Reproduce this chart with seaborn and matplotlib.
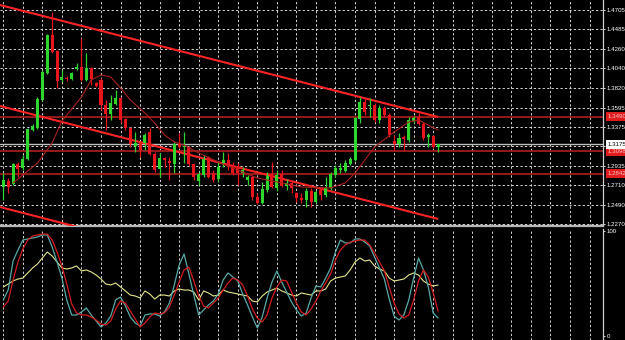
import numpy as np
import pandas as pd
import matplotlib.pyplot as plt
import matplotlib.transforms as mtransforms
import seaborn as sns

# candles (90 bars)
open_ = [1.2691, 1.2760, 1.2725, 1.2952, 1.2907, 1.3009, 1.3340, 1.3362, 1.3681, 1.3988,
         1.4421, 1.4239, 1.3909, 1.3931, 1.3920, 1.4034, 1.4056, 1.3909, 1.4045, 1.3875,
         1.3909, 1.3624, 1.3522, 1.3636, 1.3704, 1.3465, 1.3362, 1.3157, 1.3192, 1.3192,
         1.3317, 1.3066, 1.2896, 1.3021, 1.2987, 1.2952, 1.3180, 1.3146, 1.3146, 1.2952,
         1.2760, 1.2828, 1.3032, 1.2851, 1.2782, 1.2964, 1.2998, 1.2930, 1.2918, 1.2851,
         1.2771, 1.2805, 1.2577, 1.2509, 1.2657, 1.2839, 1.2680, 1.2839, 1.2702, 1.2737,
         1.2623, 1.2566, 1.2543, 1.2646, 1.2520, 1.2657, 1.2600, 1.2680, 1.2828, 1.2884,
         1.2873, 1.2952, 1.2998, 1.3465, 1.3658, 1.3613, 1.3624, 1.3453, 1.3590, 1.3510,
         1.3215, 1.3180, 1.3260, 1.3226, 1.3442, 1.3488, 1.3408, 1.3260, 1.3272, 1.3146]
high = [1.2851, 1.2794, 1.2964, 1.2975, 1.3055, 1.3362, 1.3408, 1.3715, 1.4022, 1.4432,
        1.4682, 1.4250, 1.4022, 1.3954, 1.3999, 1.4102, 1.4387, 1.4216, 1.4056, 1.3886,
        1.3931, 1.3681, 1.3738, 1.3795, 1.3715, 1.3476, 1.3374, 1.3317, 1.3203, 1.3306,
        1.3362, 1.3089, 1.3078, 1.3032, 1.3032, 1.3203, 1.3306, 1.3317, 1.3157, 1.2964,
        1.2862, 1.3055, 1.3043, 1.2884, 1.2975, 1.3089, 1.3078, 1.2975, 1.2964, 1.2918,
        1.2828, 1.2816, 1.2623, 1.2748, 1.2862, 1.2975, 1.2884, 1.2884, 1.2782, 1.2771,
        1.2634, 1.2623, 1.2680, 1.2680, 1.2657, 1.2691, 1.2805, 1.2862, 1.2941, 1.2964,
        1.2998, 1.3032, 1.3488, 1.3715, 1.3704, 1.3704, 1.3647, 1.3624, 1.3613, 1.3533,
        1.3283, 1.3306, 1.3283, 1.3488, 1.3499, 1.3533, 1.3431, 1.3306, 1.3283, 1.3180]
low = [1.2543, 1.2623, 1.2714, 1.2805, 1.2884, 1.2998, 1.3328, 1.3351, 1.3669, 1.3977,
       1.4216, 1.3817, 1.3886, 1.3897, 1.3909, 1.4022, 1.3897, 1.3897, 1.3852, 1.3829,
       1.3567, 1.3340, 1.3453, 1.3624, 1.3419, 1.3340, 1.3146, 1.3089, 1.3032, 1.3112,
       1.3055, 1.2862, 1.2805, 1.2918, 1.2771, 1.2851, 1.3135, 1.2964, 1.2930, 1.2771,
       1.2714, 1.2805, 1.2794, 1.2748, 1.2748, 1.2918, 1.2884, 1.2828, 1.2714, 1.2805,
       1.2714, 1.2543, 1.2498, 1.2498, 1.2634, 1.2680, 1.2646, 1.2691, 1.2657, 1.2623,
       1.2520, 1.2509, 1.2463, 1.2463, 1.2509, 1.2543, 1.2577, 1.2657, 1.2805, 1.2851,
       1.2862, 1.2941, 1.2987, 1.3419, 1.3510, 1.3488, 1.3431, 1.3419, 1.3488, 1.3260,
       1.3112, 1.3146, 1.3112, 1.3203, 1.3419, 1.3396, 1.3226, 1.3146, 1.3135, 1.3089]
close = [1.2771, 1.2691, 1.2952, 1.2896, 1.3009, 1.3351, 1.3385, 1.3692, 1.3999, 1.4421,
         1.4227, 1.3897, 1.3943, 1.3920, 1.3988, 1.4056, 1.3909, 1.4045, 1.3920, 1.3840,
         1.3624, 1.3522, 1.3647, 1.3704, 1.3453, 1.3362, 1.3180, 1.3192, 1.3112, 1.3283,
         1.3066, 1.2884, 1.3021, 1.2998, 1.2964, 1.3180, 1.3146, 1.3157, 1.2952, 1.2805,
         1.2839, 1.3009, 1.2805, 1.2771, 1.2918, 1.2998, 1.2918, 1.2851, 1.2851, 1.2884,
         1.2805, 1.2577, 1.2509, 1.2668, 1.2816, 1.2691, 1.2828, 1.2702, 1.2737, 1.2680,
         1.2566, 1.2543, 1.2646, 1.2520, 1.2634, 1.2600, 1.2680, 1.2839, 1.2907, 1.2907,
         1.2964, 1.3009, 1.3476, 1.3658, 1.3544, 1.3624, 1.3453, 1.3590, 1.3510, 1.3283,
         1.3180, 1.3249, 1.3237, 1.3453, 1.3476, 1.3408, 1.3249, 1.3283, 1.3146, 1.3175]

# moving average
ma_idx = [2, 7, 10, 12, 16, 18, 20, 22, 24, 26, 29, 31, 33, 35, 37, 40, 44, 48, 52, 57,
          61, 67, 70, 72, 74, 76, 80, 83, 85, 87, 89]
ma_val = [1.2737, 1.2964, 1.3192, 1.3442, 1.3715, 1.3909, 1.3966, 1.3943, 1.3818, 1.3681,
          1.3533, 1.3419, 1.3283, 1.3203, 1.3169, 1.3078, 1.2975, 1.2884, 1.2793, 1.2737,
          1.2691, 1.2680, 1.2737, 1.2850, 1.2998, 1.3146, 1.3317, 1.3431, 1.3453, 1.3396,
          1.3340]

# oscillator panel (0..100)
osc_main = [34.3, 43.8, 71.4, 81.9, 91.4, 92.4, 93.3, 94.3, 96.2, 96.2,
            84.8, 70.5, 55.2, 34.3, 20.0, 20.0, 22.9, 26.7, 20.0, 14.3,
            8.6, 12.4, 19.0, 34.3, 37.1, 28.6, 18.1, 12.4, 9.5, 20.0,
            21.0, 21.0, 19.0, 22.9, 31.4, 48.6, 67.6, 78.1, 59.0, 39.0,
            20.0, 24.8, 29.5, 33.3, 40.0, 53.3, 60.0, 56.2, 52.4, 40.0,
            29.5, 18.1, 7.6, 18.1, 36.2, 51.4, 61.9, 51.4, 41.9, 32.4,
            24.8, 19.0, 21.9, 36.2, 47.6, 46.7, 55.2, 64.8, 80.0, 91.4,
            88.6, 88.6, 92.4, 92.4, 89.5, 85.7, 75.2, 64.8, 54.3, 35.2,
            19.0, 15.2, 20.0, 34.3, 55.2, 74.3, 62.9, 46.7, 21.9, 17.1]
osc_signal = [27.6, 33.3, 53.3, 70.5, 82.9, 91.4, 95.2, 96.2, 97.1, 97.1,
              91.4, 80.0, 66.7, 49.5, 30.5, 21.9, 20.0, 20.0, 18.1, 15.2,
              11.4, 10.5, 14.3, 25.7, 33.3, 31.4, 23.8, 16.2, 8.6, 12.4,
              18.1, 21.9, 21.0, 21.9, 27.6, 39.0, 51.4, 62.9, 65.7, 52.4,
              38.1, 28.6, 26.7, 31.4, 36.2, 43.8, 50.5, 55.2, 53.3, 48.6,
              38.1, 25.7, 17.1, 13.3, 20.0, 36.2, 46.7, 53.3, 52.4, 41.9,
              31.4, 22.9, 20.0, 25.7, 33.3, 42.9, 50.5, 59.0, 72.4, 81.9,
              86.7, 89.5, 90.5, 91.4, 91.4, 86.7, 79.0, 70.5, 61.9, 46.7,
              31.4, 21.0, 17.1, 20.0, 34.3, 52.4, 62.9, 56.2, 41.0, 23.8]
osc_slow = [46.7, 49.5, 52.4, 54.3, 55.2, 60.0, 64.8, 68.6, 74.3, 80.0,
            76.2, 70.5, 64.8, 63.8, 64.8, 66.7, 61.9, 62.9, 61.0, 58.1,
            54.3, 49.5, 48.6, 50.5, 46.7, 42.9, 39.0, 38.1, 36.2, 42.9,
            40.0, 35.2, 39.0, 39.0, 38.1, 42.9, 44.8, 43.8, 43.8, 41.9,
            34.3, 42.9, 41.0, 38.1, 39.0, 43.8, 41.9, 41.0, 40.0, 39.0,
            38.1, 33.3, 32.4, 38.1, 41.9, 43.8, 45.7, 42.9, 41.0, 39.0,
            38.1, 41.0, 40.0, 39.0, 42.9, 42.9, 44.8, 52.4, 55.2, 56.2,
            57.1, 62.9, 70.5, 74.3, 71.4, 72.4, 66.7, 63.8, 61.9, 55.2,
            52.4, 53.3, 54.3, 58.1, 60.0, 58.1, 52.4, 49.5, 47.6, 48.6]

# trend lines (bar index, price)
trend_x = [[-0.675, 89], [-0.675, 89], [-0.675, 20]]
trend_y = [[1.4762, 1.3488], [1.3613, 1.2327], [1.2463, 1.2167]]
levels = [1.3490, 1.3098, 1.2842]
level_labels = ["1.3490", "1.3098", "1.2842"]
bid = 1.3175
price_ticks = [1.4705, 1.4485, 1.4260, 1.4040, 1.3820, 1.3595, 1.3375, 1.3155,
               1.2935, 1.2710, 1.2490, 1.2270]
price_tick_labels = ["1.4705", "1.4485", "1.4260", "1.4040", "1.3820", "1.3595", "1.3375", "",
                     "1.2935", "1.2710", "1.2490", "1.2270"]

GREEN = "#2ed62e"
RED = "#e8161c"
FS = 4.4

sns.set_style("dark", {"axes.facecolor": "black", "figure.facecolor": "black"})
plt.rcParams['font.family'] = ['Liberation Sans', 'DejaVu Sans']
plt.rcParams['lines.scale_dashes'] = False

fig = plt.figure(figsize=(6.25, 3.4), dpi=100)
W = 603 / 625
ax = fig.add_axes([0, 1 - 226 / 340, W, 226 / 340])
axi = fig.add_axes([0, 0, W, 111 / 340])

idx = np.arange(len(close))
o = np.array(open_)
c = np.array(close)
col = np.where(c >= o, GREEN, RED)

XMIN, XMAX = -0.675, 122.76
grid_x = np.arange(0, 123, 4)
dash = (0, (1.6, 1.6))

for a in (ax, axi):
    a.set_facecolor("black")
    a.set_xlim(XMIN, XMAX)
    a.set_xticks(grid_x)
    a.tick_params(axis="x", bottom=False, labelbottom=False)
    a.grid(True, axis="x", color="#d8d8d8", ls=dash, lw=0.7)
    a.yaxis.tick_right()
    a.tick_params(axis="y", colors="white", labelsize=FS, length=1.5, width=0.6, pad=1.2)
    for s in ("left", "top", "bottom"):
        a.spines[s].set_visible(False)
    a.spines["right"].set_color("#d0d0d0")
    a.spines["right"].set_linewidth(0.9)
    a.set_xlabel("")
    a.set_ylabel("")

# main price panel
ax.set_ylim(1.2247, 1.4819)
ax.set_yticks(price_ticks)
ax.set_yticklabels(price_tick_labels)
ax.grid(True, axis="y", color="#d8d8d8", ls=dash, lw=0.7)
ax.spines["bottom"].set_visible(True)
ax.spines["bottom"].set_color("#b8b8b8")
ax.spines["bottom"].set_linewidth(1.6)

for lv in levels:
    ax.axhline(lv, color="#a01c1c", lw=1.3, zorder=2)
ax.axhline(bid, color="#bdbdbd", lw=1.0, zorder=2)

for tx, ty in zip(trend_x, trend_y):
    ax.plot(tx, ty, color="#ff2424", lw=1.5, zorder=3, solid_capstyle="butt")

ax.vlines(idx, low, high, colors=col, lw=0.9, zorder=4)
bottom = np.minimum(o, c)
height = np.maximum(np.abs(c - o), 0.0007)
ax.bar(idx, height, bottom=bottom, width=0.62, color=col, linewidth=0, zorder=5)

ma_df = pd.DataFrame({"bar": ma_idx, "ma": ma_val})
sns.lineplot(data=ma_df, x="bar", y="ma", ax=ax, color="#a8201c", lw=0.8, zorder=6)
ax.set_xlabel("")
ax.set_ylabel("")

trans = mtransforms.blended_transform_factory(ax.transAxes, ax.transData)
for lv, lab in zip(levels, level_labels):
    ax.text(1.0075, lv, lab, transform=trans, fontsize=FS, color="#ffc4c4",
            va="center", ha="left", clip_on=False,
            bbox=dict(boxstyle="square,pad=0.3", fc="#e01c1c", ec="none"))
ax.text(1.0075, bid, "1.3175", transform=trans, fontsize=FS, color="black",
        va="center", ha="left", clip_on=False,
        bbox=dict(boxstyle="square,pad=0.3", fc="white", ec="none"))

# oscillator panel
osc = pd.DataFrame({"bar": idx, "main": osc_main, "signal": osc_signal, "slow": osc_slow})
sns.lineplot(data=osc, x="bar", y="slow", ax=axi, color="#e6e68a", lw=0.8)
sns.lineplot(data=osc, x="bar", y="main", ax=axi, color="#58aaa8", lw=0.9)
sns.lineplot(data=osc, x="bar", y="signal", ax=axi, color="#d41e1e", lw=0.9)
axi.set_ylim(-3.8, 101.9)
axi.set_yticks([0, 100])
axi.set_yticklabels(["0", "100"])
axi.set_xlabel("")
axi.set_ylabel("")

fig.savefig("out.png", dpi=100, facecolor="black")
